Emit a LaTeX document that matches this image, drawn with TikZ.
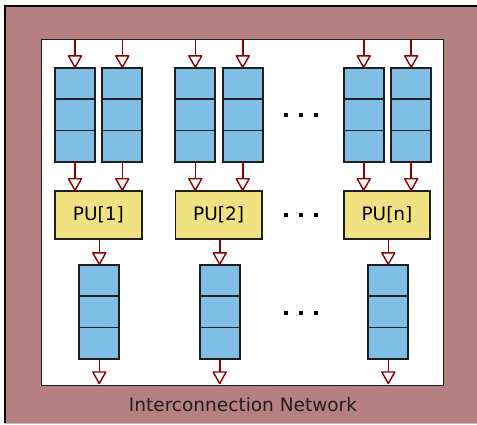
\documentclass[tikz,border=0pt]{standalone}
\usepackage{fontspec}
\setmainfont{DejaVu Sans}
\definecolor{netbrown}{RGB}{183,128,128}
\definecolor{qblue}{RGB}{127,191,229}
\definecolor{puyellow}{RGB}{240,226,128}
\definecolor{flowred}{RGB}{139,0,0}
\definecolor{edgegray}{RGB}{30,30,30}
\tikzset{
  queue/.style={draw=edgegray, line width=1.8pt, fill=qblue, minimum width=40pt,
    minimum height=94pt, inner sep=0pt, outer sep=0pt,
    path picture={
      \draw[line width=1.8pt, draw=edgegray] ([yshift=-31.3pt]path picture bounding box.north west) -- ([yshift=-31.3pt]path picture bounding box.north east);
      \draw[line width=1.8pt, draw=edgegray] ([yshift=31.3pt]path picture bounding box.south west) -- ([yshift=31.3pt]path picture bounding box.south east);
    }},
  pu/.style={draw=edgegray, line width=1.8pt, fill=puyellow, minimum width=86.5pt,
    minimum height=48.5pt, inner sep=0pt, outer sep=0pt, font=\fontsize{18.5}{20}\selectfont},
  flow/.style={draw=flowred, line width=1.6pt},
  % open triangular head, tip at the pic origin, pointing down
  openhead/.pic={
    \draw[draw=flowred, fill=white, line width=1.4pt, line join=round]
      (0,-0.5) -- (-6.5,-12) -- (6.5,-12) -- cycle;
  },
  dot/.style={fill=black, minimum size=4pt, inner sep=0pt, outer sep=0pt}
}
\newcommand{\flowarrow}[2]{%
  \draw[flow] (#1) -- (#2);
  \pic at (#2) {openhead};
}
\begin{document}
\begin{tikzpicture}[x=1pt, y=-1pt]
  \useasboundingbox (0,0) rectangle (477,424);
  % network frame and inner area
  \fill[white] (0,0) rectangle (477,424);
  \fill[netbrown] (5,6) rectangle (480,423);
  \draw[line width=1pt, draw=black!25] (5,423) -- (480,423);
  \draw[line width=1.6pt] (5,423) -- (5,6) -- (480,6);
  \draw[fill=white, line width=1.8pt, draw=edgegray] (41.5,39.5) rectangle (443.5,385.5);
  \node[font=\fontsize{18.5}{20}\selectfont, text=edgegray] (net) at (243,405) {Interconnection Network};

  % input queues
  \foreach \n/\x in {a/75, b/122.3, c/195.3, d/242.7, e/363.7, f/411.2} {
    \node[queue] (in\n) at (\x,114.85) {};
    \coordinate (src\n) at (\x,40);
    \flowarrow{src\n}{in\n.north}
  }

  % processing units
  \node[pu] (pu1) at (98.35,215) {PU[1]};
  \node[pu] (pu2) at (218.65,215) {PU[2]};
  \node[pu] (pun) at (387,215) {PU[n]};
  \flowarrow{ina.south}{ina.south |- pu1.north}
  \flowarrow{inb.south}{inb.south |- pu1.north}
  \flowarrow{inc.south}{inc.south |- pu2.north}
  \flowarrow{ind.south}{ind.south |- pu2.north}
  \flowarrow{ine.south}{ine.south |- pun.north}
  \flowarrow{inf.south}{inf.south |- pun.north}

  % output queues
  \foreach \n/\x in {1/99.3, 2/219.7, n/388.3} {
    \node[queue] (out\n) at (\x,311.85) {};
    \coordinate (dst\n) at (\x,384);
    \flowarrow{out\n.north |- pu\n.south}{out\n.north}
    \flowarrow{out\n.south}{dst\n}
  }

  % ellipses between the columns
  \foreach \r/\y in {a/115.3, b/215, c/313.3} {
    \node[dot] (dot\r1) at (286,\y) {};
    \node[dot] (dot\r2) at (301.3,\y) {};
    \node[dot] (dot\r3) at (316.3,\y) {};
  }
\end{tikzpicture}
\end{document}
